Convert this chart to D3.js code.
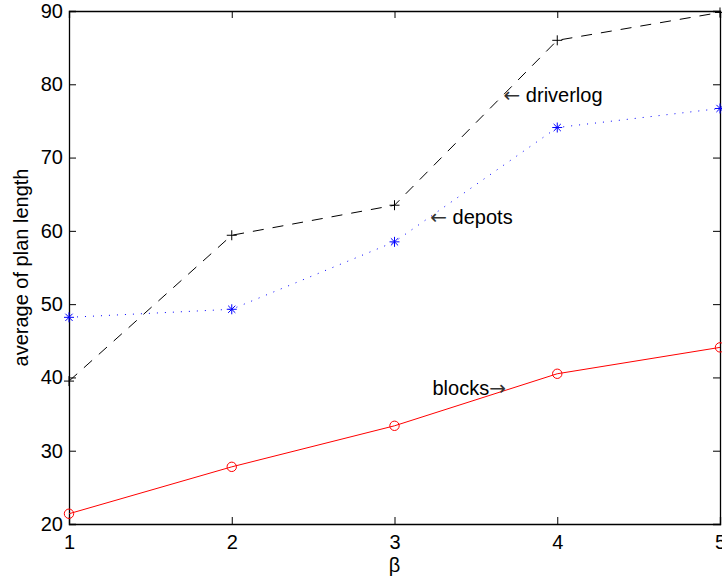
<!DOCTYPE html>
<html>
<head>
<meta charset="utf-8">
<script src="https://cdn.jsdelivr.net/npm/d3@7"></script>
<style>
  body { margin: 0; background: #fff; }
  svg text { font-family: "Liberation Sans", Arial, sans-serif; }
</style>
</head>
<body>
<div id="chart"></div>
<script>
// valeurs
const betas = [1, 2, 3, 4, 5];
const driverlog = [39.5, 59.4, 63.5, 86.0, 89.8];
const depots = [48.2, 49.3, 58.5, 74.1, 76.7];
const blocks = [21.4, 27.8, 33.4, 40.5, 44.1];
const yTicks = [20, 30, 40, 50, 60, 70, 80, 90];

// annotations (coordonnées données)
const notes = [
  { label: 'driverlog', arrow: 'left', x: 3.67, y: 78.6 },
  { label: 'depots', arrow: 'left', x: 3.22, y: 61.9 },
  { label: 'blocks', arrow: 'right', x: 3.685, y: 38.5 }
];

const width = 722, height = 579;
const margin = { top: 11, right: 2, bottom: 55, left: 69 };
const innerWidth = width - margin.left - margin.right;
const innerHeight = height - margin.top - margin.bottom;

const svg = d3.select('#chart')
  .append('svg')
  .attr('width', width)
  .attr('height', height)
  .append('g')
  .attr('transform', `translate(${margin.left},${margin.top})`);

const x = d3.scaleLinear().domain([1, 5]).range([0, innerWidth]);
const y = d3.scaleLinear().domain([20, 90]).range([innerHeight, 0]);

// Axes (ticks vers l'intérieur, style matlab)
const fs = '20px';
const gx = svg.append('g')
  .attr('transform', `translate(0,${innerHeight})`)
  .call(d3.axisBottom(x).tickValues(betas).tickFormat(d3.format('d')).tickSize(-7).tickPadding(11));
const gy = svg.append('g')
  .call(d3.axisLeft(y).tickValues(yTicks).tickSize(-7).tickPadding(6));
const gt = svg.append('g')
  .call(d3.axisTop(x).tickValues(betas).tickFormat('').tickSize(-7));
const gr = svg.append('g')
  .attr('transform', `translate(${innerWidth},0)`)
  .call(d3.axisRight(y).tickValues(yTicks).tickFormat('').tickSize(-7));

gt.selectAll('.tick text').remove();
gr.selectAll('.tick text').remove();

[gx, gy, gt, gr].forEach(g => {
  g.select('.domain').attr('stroke', '#000').attr('stroke-width', 1.3);
  g.selectAll('.tick line').attr('stroke', '#000');
  g.selectAll('.tick text').style('font-size', fs).attr('fill', '#000');
});
gx.selectAll('.tick text').attr('dy', '0.71em');

// Séries
const line = d3.line().x((d, i) => x(betas[i])).y(d => y(d));

const series = [
  { data: driverlog, color: '#000', dash: '11,9', marker: 'plus' },
  { data: depots, color: '#0000ff', dash: '1,7', marker: 'star' },
  { data: blocks, color: '#ff0000', dash: null, marker: 'circle' }
];

series.forEach(s => {
  svg.append('path')
    .datum(s.data)
    .attr('fill', 'none')
    .attr('stroke', s.color)
    .attr('stroke-width', 1)
    .attr('stroke-dasharray', s.dash)
    .attr('d', line);

  const m = svg.append('g').selectAll('g')
    .data(s.data)
    .enter()
    .append('g')
    .attr('transform', (d, i) => `translate(${x(betas[i])},${y(d)})`);

  if (s.marker === 'circle') {
    m.append('circle').attr('r', 4.7).attr('fill', 'none').attr('stroke', s.color).attr('stroke-width', 1);
  } else if (s.marker === 'plus') {
    m.append('path').attr('d', 'M-5,0H5M0,-5V5').attr('stroke', s.color).attr('stroke-width', 1);
  } else {
    m.append('path')
      .attr('d', 'M-5,0H5M0,-5V5M-3.6,-3.6L3.6,3.6M-3.6,3.6L3.6,-3.6')
      .attr('stroke', s.color).attr('stroke-width', 1);
  }
});

// Annotations (flèche en DejaVu, plus longue)
const nt = svg.selectAll('text.note')
  .data(notes)
  .enter()
  .append('text')
  .attr('class', 'note')
  .attr('x', d => x(d.x))
  .attr('y', d => y(d.y))
  .attr('dy', '0.35em')
  .attr('text-anchor', d => d.arrow === 'left' ? 'start' : 'end')
  .style('font-size', fs);

nt.each(function(d) {
  const t = d3.select(this);
  if (d.arrow === 'left') {
    t.append('tspan').style('font-family', '"DejaVu Sans"').attr('fill', '#333').text('\u2190');
    t.append('tspan').text(' ' + d.label);
  } else {
    t.append('tspan').text(d.label);
    t.append('tspan').style('font-family', '"DejaVu Sans"').attr('fill', '#333').text('\u2192');
  }
});

// Titres des axes
svg.append('text')
  .attr('x', innerWidth / 2)
  .attr('y', innerHeight + 48)
  .attr('text-anchor', 'middle')
  .style('font-size', fs)
  .text('\u03b2');

svg.append('text')
  .attr('transform', `translate(${-41},${innerHeight / 2}) rotate(-90)`)
  .attr('text-anchor', 'middle')
  .style('font-size', fs)
  .text('average of plan length');
</script>
</body>
</html>
